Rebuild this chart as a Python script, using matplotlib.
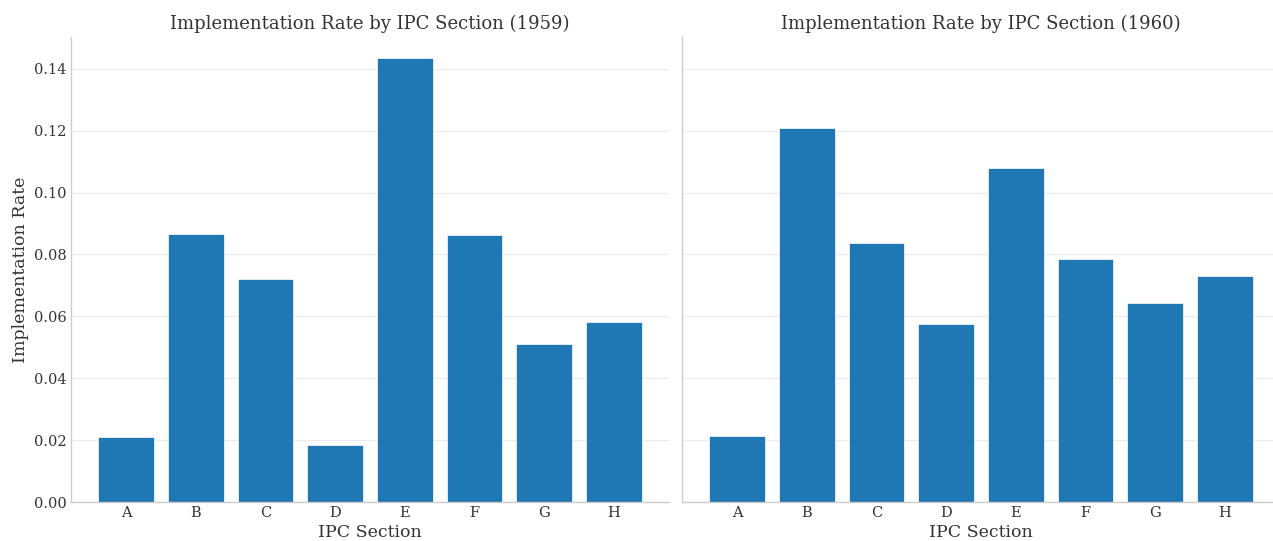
import numpy as np
import matplotlib
matplotlib.use("Agg")
import matplotlib.pyplot as plt
import seaborn as sns

sns.set_theme(style="whitegrid")
plt.rcParams['font.family'] = ['DejaVu Serif']

sections = ['A', 'B', 'C', 'D', 'E', 'F', 'G', 'H']
rate_1959 = [0.0210, 0.0867, 0.0721, 0.0184, 0.1436, 0.0863, 0.0511, 0.0582]
rate_1960 = [0.0213, 0.1209, 0.0837, 0.0576, 0.1080, 0.0786, 0.0643, 0.0731]
years = [1959, 1960]

W, H = 1273, 541
fig = plt.figure(figsize=(W / 100, H / 100), dpi=100)
ax0 = fig.add_axes([71 / W, 1 - 502 / H, 598 / W, 465 / H])
ax1 = fig.add_axes([682 / W, 1 - 502 / H, 598 / W, 465 / H], sharey=ax0)
axes = [ax0, ax1]

for ax, year, vals in zip(axes, years, [rate_1959, rate_1960]):
    ax.bar(sections, vals, color='#1f77b4', width=0.8, linewidth=0.5)
    ax.set_title(f'Implementation Rate by IPC Section ({year})', fontsize=13, color='#333333', pad=6)
    ax.set_xlabel('IPC Section', fontsize=12.5, color='#333333', labelpad=3)
    ax.grid(axis='x', visible=False)
    ax.grid(axis='y', color='#ebebeb', linewidth=0.8)
    ax.tick_params(axis='both', labelsize=10.5, colors='#333333', length=0, pad=3)
    for side in ['top', 'right']:
        ax.spines[side].set_visible(False)
    for side in ['left', 'bottom']:
        ax.spines[side].set_color('#cccccc')
        ax.spines[side].set_linewidth(1.0)

ax0.set_ylabel('Implementation Rate', fontsize=12.5, color='#333333', labelpad=4)
ax0.set_ylim(0, 0.1503)
ax0.set_yticks(np.arange(0, 0.141, 0.02))
ax0.yaxis.set_major_formatter(matplotlib.ticker.FormatStrFormatter('%.2f'))
ax1.tick_params(axis='y', labelleft=False)

fig.savefig('out.png', dpi=100)
